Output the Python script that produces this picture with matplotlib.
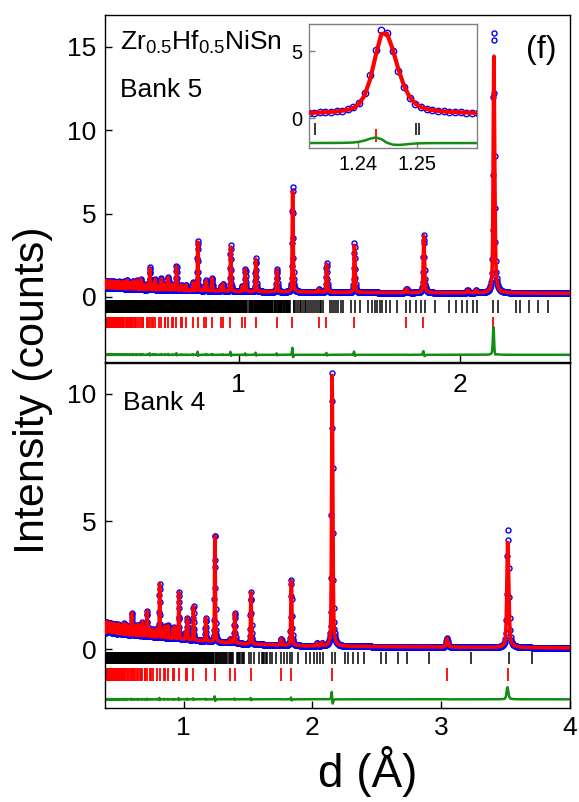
import numpy as np
import matplotlib
matplotlib.use('Agg')
import matplotlib.pyplot as plt

plt.rcParams['font.family'] = ['Liberation Sans', 'DejaVu Sans']
plt.rcParams['mathtext.fontset'] = 'custom'
plt.rcParams['mathtext.rm'] = 'Liberation Sans'
plt.rcParams['mathtext.it'] = 'Liberation Sans:italic'

# ---- half-Heusler phase (red ticks), a in Angstrom, h^2+k^2+l^2 of allowed fcc reflections
a_hh = 6.09
hkl_N = [3, 4, 8, 11, 12, 16, 19, 20, 24, 27,
         32, 35, 36, 40, 43, 44, 48, 51, 52, 56,
         59, 64, 67, 68, 72, 75, 76, 80, 83, 84,
         88, 91, 96, 99, 100, 104, 107, 108, 115, 116,
         120, 123, 128, 131, 132, 136, 139, 140, 144, 147,
         148, 152, 155, 160, 163, 164, 168, 171, 172, 176,
         179, 180, 184, 187, 192, 195, 196, 200, 203, 204,
         208, 211, 212, 216, 219, 224, 227, 228, 232, 235,
         236, 243, 244]

# observed peak heights above background, Bank 5 and Bank 4 (same order as hkl_N)
h_bank5 = [5.0, 0.1, 15.9, 3.5, 0.25, 2.95, 1.75, 0.2, 6.4, 1.35,
           2.0, 1.35, 0.3, 2.75, 0.45, 0.3, 0.8, 0.65, 0.3, 3.0,
           0.5, 0.35, 0.3, 0.3, 1.5, 0.3, 0.35, 0.8, 0.3, 0.35,
           0.7, 0.3, 0.65, 0.3, 0.35, 1.35, 0.3, 0.35, 0.3, 0.3,
           0.65, 0.3, 0.55, 0.3, 0.3, 0.5, 0.3, 0.3, 0.4, 0.3,
           0.3, 0.55, 0.3, 0.45, 0.3, 0.3, 0.4, 0.3, 0.3, 0.45,
           0.3, 0.3, 0.4, 0.3, 0.4, 0.3, 0.3, 0.35, 0.3, 0.3,
           0.35, 0.3, 0.3, 0.35, 0.3, 0.35, 0.3, 0.3, 0.35, 0.3,
           0.3, 0.3, 0.3]
h_bank4 = [4.6, 0.35, 10.7, 2.6, 0.25, 2.05, 1.2, 0.15, 4.3, 0.9,
           1.35, 0.85, 0.3, 1.85, 0.45, 0.4, 0.5, 0.45, 0.3, 2.1,
           0.35, 0.3, 0.3, 0.25, 1.0, 0.3, 0.3, 0.55, 0.25, 0.25,
           0.45, 0.3, 0.4, 0.25, 0.3, 0.9, 0.3, 0.3, 0.25, 0.25,
           0.4, 0.25, 0.45, 0.25, 0.25, 0.3, 0.25, 0.25, 0.3, 0.25,
           0.25, 0.4, 0.25, 0.35, 0.25, 0.25, 0.3, 0.25, 0.25, 0.3,
           0.25, 0.25, 0.3, 0.25, 0.3, 0.25, 0.25, 0.3, 0.25, 0.25,
           0.3, 0.25, 0.25, 0.3, 0.25, 0.3, 0.25, 0.25, 0.3, 0.25,
           0.25, 0.25, 0.25]

# calculated heights: overall ratio to observed, and the strongest peaks
calc5_ratio = 0.975
calc5_220 = 14.6
calc4_ratio = 0.995
calc4_111 = 4.15

# weak second-phase peaks (d, height)
extra_bank5 = [(2.036, 0.15), (2.075, 0.15)]
extra_bank4 = [(2.035, 0.12), (2.074, 0.12)]

# backgrounds (d, counts)
bg5_d = [0.39, 0.6, 1.0, 1.5, 2.5]
bg5_y = [0.5, 0.42, 0.33, 0.27, 0.22]
bg4_d = [0.39, 0.7, 1.0, 1.5, 2.0, 4.0]
bg4_y = [0.6, 0.5, 0.38, 0.2, 0.12, 0.05]

# second phase (black ticks): read positions above 1.23 A, dense part from its cell
black_read = [1.2328, 1.2498, 1.2502, 1.261, 1.268, 1.276, 1.283, 1.291, 1.299, 1.307,
              1.316, 1.325, 1.333, 1.341, 1.350, 1.358, 1.367, 1.375, 1.384,
              1.412, 1.421, 1.431, 1.441, 1.451, 1.462, 1.471, 1.510, 1.525, 1.548,
              1.585, 1.605, 1.615, 1.626, 1.638, 1.650, 1.668, 1.683, 1.716,
              1.759, 1.777, 1.804, 1.827, 1.845, 1.890, 1.953, 1.982, 2.009, 2.033,
              2.062, 2.079, 2.150, 2.172, 2.256, 2.275, 2.313, 2.356, 2.399,
              2.532, 2.570, 2.663, 2.733, 2.909, 3.232, 3.524, 3.703]
black_cell = (9.31, 8.07, 6.22)
black_dense_max = 1.23

# profile settings
res5, res4 = 0.0037, 0.005
step5, step4 = 0.00076, 0.0011
shift5 = 0.0009
shift4_calc = 0.00008

d_hh = a_hh / np.sqrt(np.array(hkl_N, dtype=float))

hh = np.arange(0, 26)
H, K, L = np.meshgrid(hh, hh, hh, indexing='ij')
inv2 = (H / black_cell[0])**2 + (K / black_cell[1])**2 + (L / black_cell[2])**2
inv2 = inv2[inv2 > 0]
d_cell = np.unique(np.round(1 / np.sqrt(inv2), 4))
d_black = np.concatenate([d_cell[(d_cell > 0.38) & (d_cell < black_dense_max)], black_read])


def profile(d, centers, heights, res, asym=0.12, eta=0.5):
    y = np.zeros_like(d)
    for c, h in zip(centers, heights):
        hw = 0.5 * res * c
        w = np.where(d < c, hw * (1 - asym), hw * (1 + asym))
        u = (d - c) / w
        y += h * (eta / (1 + u**2) + (1 - eta) * np.exp(-np.log(2) * u**2))
    return y


# Bank 5
d5 = 0.395 * (1 + step5) ** np.arange(int(np.log(2.5 / 0.395) / np.log(1 + step5)) + 1)
c5 = d_hh * (1 + shift5)
hc5 = np.array(h_bank5) * calc5_ratio
hc5[2] = calc5_220
bg5 = np.interp(d5, bg5_d, bg5_y)
ex5 = profile(d5, [e[0] for e in extra_bank5], [e[1] for e in extra_bank5], res5)
obs5 = bg5 + profile(d5, c5, h_bank5, res5) + ex5
calc5 = bg5 + profile(d5, c5 * (1 + 0.00012), hc5, res5) + ex5
diff5 = obs5 - calc5

# Bank 4
d4 = 0.39 * (1 + step4) ** np.arange(int(np.log(4.0 / 0.39) / np.log(1 + step4)) + 1)
c4 = d_hh
hc4 = np.array(h_bank4) * calc4_ratio
hc4[0] = calc4_111
bg4 = np.interp(d4, bg4_d, bg4_y)
ex4 = profile(d4, [e[0] for e in extra_bank4], [e[1] for e in extra_bank4], res4)
obs4 = bg4 + profile(d4, c4, h_bank4, res4) + ex4
calc4 = bg4 + profile(d4, c4 * (1 + shift4_calc), hc4, res4) + ex4
diff4 = obs4 - calc4

blue = '#0000ff'
red = '#ff0000'
green = '#128c12'

fig = plt.figure(figsize=(5.79, 8.02), dpi=100)
ax1 = fig.add_axes([0.18135, 0.54863, 0.80311, 0.43267])
ax2 = fig.add_axes([0.18135, 0.11721, 0.80311, 0.43017])
ax1.set_zorder(2)
ax1.patch.set_visible(False)


def draw(ax, d, obs, calc, diff, off, tb, tr, ms=3.6, lw=2.6):
    ax.plot(d, obs, 'o', mfc='none', mec=blue, ms=ms, mew=1.0, zorder=2)
    ax.plot(d, calc, '-', color=red, lw=lw, zorder=3)
    ax.vlines(d_black, tb[0], tb[1], colors='black', lw=1.1, zorder=2)
    ax.vlines(d_hh, tr[0], tr[1], colors=red, lw=1.3, zorder=2)
    ax.plot(d, diff + off, '-', color=green, lw=1.8, zorder=2)


draw(ax1, d5, obs5, calc5, diff5, -3.47, (-0.98, -0.18), (-1.87, -1.18))
draw(ax2, d4, obs4, calc4, diff4, -1.96, (-0.59, -0.12), (-1.25, -0.75))

ax1.set_xlim(0.395, 2.5)
ax1.set_ylim(-3.9, 16.9)
ax1.set_xticks([1, 2])
ax1.set_yticks([0, 5, 10, 15])
ax2.set_xlim(0.39, 4.0)
ax2.set_ylim(-2.3, 11.2)
ax2.set_xticks([1, 2, 3, 4])
ax2.set_yticks([0, 5, 10])

for ax in (ax1, ax2):
    ax.tick_params(direction='in', length=5, width=1, labelsize=19, pad=6)
    for s in ax.spines.values():
        s.set_linewidth(1.0)
ax1.tick_params(axis='x', pad=8)
ax2.tick_params(axis='x', pad=6)

fig.text(0.2073, 0.9377, r'Zr$_{0.5}$Hf$_{0.5}$NiSn', fontsize=19)
fig.text(0.2073, 0.8791, 'Bank 5', fontsize=19)
fig.text(0.962, 0.9277, '(f)', fontsize=23, ha='right')
fig.text(0.2124, 0.4888, 'Bank 4', fontsize=19)

fig.text(0.057, 1 - 390 / 802, 'Intensity (counts)', fontsize=31, rotation=90,
         ha='center', va='center')
fig.text(368 / 579, 1 - 787 / 802, 'd (Å)', fontsize=33, ha='center', va='baseline')

# inset: zoom on the (422) peak of Bank 5
axi = fig.add_axes([0.53368, 0.81546, 0.29016, 0.15461])
axi.set_zorder(3)
draw(axi, d5, obs5, calc5, diff5, -1.88, (-1.3, -0.4), (-1.8, -0.85), ms=4.6, lw=3.0)
axi.set_xlim(1.2318, 1.2600)
axi.set_ylim(-2.25, 7.05)
axi.set_xticks([1.24, 1.25])
axi.set_xticklabels(['1.24', '1.25'])
axi.set_yticks([0, 5])
axi.tick_params(direction='in', length=4, width=1, labelsize=14.5, pad=5, color='#808080')
for s in axi.spines.values():
    s.set_color('#808080')
    s.set_linewidth(1.0)

fig.savefig('out.png', dpi=100)
